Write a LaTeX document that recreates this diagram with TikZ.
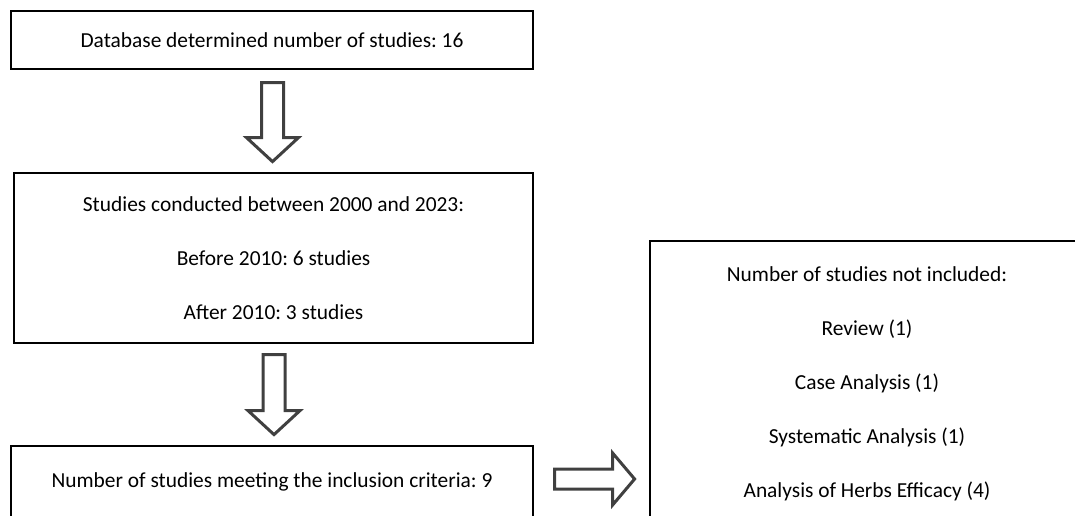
\documentclass[tikz,border=0pt]{standalone}
\usepackage{fontspec}
\setmainfont{Carlito}
\usetikzlibrary{calc}
\definecolor{arrowgray}{HTML}{404040}
\frenchspacing
\begin{document}
\begin{tikzpicture}[x=1pt,y=-1pt,
  box/.style={draw=black, line width=2.2pt, fill=white, inner sep=0pt, align=center,
    font=\fontsize{21.4}{54}\selectfont},
  blockarrow/.style={draw=arrowgray, line width=3pt, fill=white, line join=miter}]
\clip (0,0) rectangle (1075,516);
\node[box, minimum width=522pt, minimum height=58pt] (b1) at (272,40) {Database determined number of studies: 16};
\node[box, minimum width=519pt, minimum height=170pt] (b2) at (273.5,258) {Studies conducted between 2000 and 2023:\\Before 2010: 6 studies\\After 2010: 3 studies};
\node[box, minimum width=522pt, minimum height=72pt] (b3) at (272,482) {Number of studies meeting the inclusion criteria: 9};
\node[box, minimum width=434pt, minimum height=286pt] (b4) at (867,384) {Number of studies not included:\\Review (1)\\Case Analysis (1)\\Systematic Analysis (1)\\Analysis of Herbs Efficacy (4)};
% block arrows
\coordinate (a1) at ($(b1.south)+(0.5,12.5)$);
\coordinate (a2) at ($(b2.south)+(0.5,10.5)$);
\coordinate (a3) at ($(b3.east)+(20.5,-3)$);
\draw[blockarrow] ($(a1)+(-11,0)$) -- ($(a1)+(11,0)$) -- ($(a1)+(11,55)$) -- ($(a1)+(26,55)$)
  -- ($(a1)+(0,79)$) -- ($(a1)+(-26,55)$) -- ($(a1)+(-11,55)$) -- cycle;
\draw[blockarrow] ($(a2)+(-11,0)$) -- ($(a2)+(11,0)$) -- ($(a2)+(11,56)$) -- ($(a2)+(26,56)$)
  -- ($(a2)+(0,80)$) -- ($(a2)+(-26,56)$) -- ($(a2)+(-11,56)$) -- cycle;
\draw[blockarrow] ($(a3)+(0,-10)$) -- ($(a3)+(58,-10)$) -- ($(a3)+(58,-26)$) -- ($(a3)+(80,0)$)
  -- ($(a3)+(58,26)$) -- ($(a3)+(58,10)$) -- ($(a3)+(0,10)$) -- cycle;
\end{tikzpicture}
\end{document}
